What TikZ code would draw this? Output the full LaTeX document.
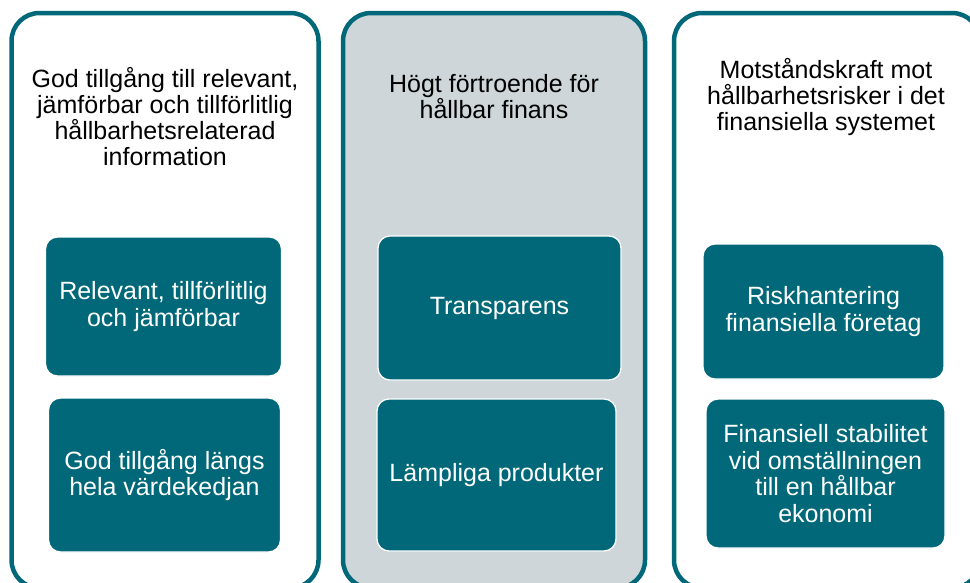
\documentclass[tikz,border=0pt]{standalone}
\usepackage{fontspec}
\setmainfont{Liberation Sans}
\definecolor{teal}{RGB}{0,104,120}
\definecolor{panelgrey}{RGB}{206,214,217}
\begin{document}
\begin{tikzpicture}[x=1pt,y=-1pt,
  panel/.style={draw=teal, line width=4.5pt, rounded corners=28pt, inner sep=0pt, outer sep=0pt, minimum height=575pt},
  box/.style={draw=white, line width=1.3pt, fill=teal, rounded corners=12pt, inner sep=0pt, outer sep=0pt, text=white},
  title/.style={align=center, font=\fontsize{25}{26}\selectfont, text=black},
  boxtext/.style={align=center, font=\fontsize{25}{26.5}\selectfont, text=white}]
\clip (0,0) rectangle (970,582);
\fill[white] (0,0) rectangle (970,582);
% panels
\node[panel, fill=white, minimum width=307pt] (p1) at (165,300.5) {};
\node[panel, fill=panelgrey, minimum width=302pt] (p2) at (494,300.5) {};
\node[panel, fill=white, minimum width=306pt] (p3) at (827,300.5) {};
% titles
\node[title] (t1) at (165,117) {God tillgång till relevant,\\jämförbar och tillförlitlig\\hållbarhetsrelaterad\\information};
\node[title] (t2) at (494,97) {Högt förtroende för\\hållbar finans};
\node[title] (t3) at (826,97) {Motståndskraft mot\\hållbarhetsrisker i det\\finansiella systemet};
% boxes
\node[box, minimum width=236pt, minimum height=139pt] (l1) at (163.5,306.5) {};
\node[boxtext] at (l1) {Relevant, tillförlitlig\\och jämförbar};
\node[box, minimum width=232pt, minimum height=154pt] (l2) at (164.5,475) {};
\node[boxtext] at (l2) {God tillgång längs\\hela värdekedjan};
\node[box, minimum width=243pt, minimum height=144pt] (m1) at (499.5,308) {};
\node[boxtext] at (m1) {Transparens};
\node[box, minimum width=239pt, minimum height=152pt] (m2) at (496.5,475) {};
\node[boxtext] at (m2) {Lämpliga produkter};
\node[box, minimum width=241pt, minimum height=135pt] (r1) at (823.5,311.5) {};
\node[boxtext] at (r1) {Riskhantering\\finansiella företag};
\node[box, minimum width=239pt, minimum height=149pt] (r2) at (825.5,473.5) {};
\node[boxtext] at (r2) {Finansiell stabilitet\\vid omställningen\\till en hållbar\\ekonomi};
\end{tikzpicture}
\end{document}
